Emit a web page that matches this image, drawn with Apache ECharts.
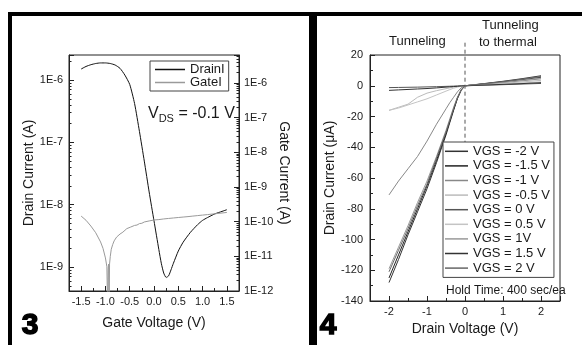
<!DOCTYPE html>
<html>
<head>
<meta charset="utf-8">
<script src="https://cdn.jsdelivr.net/npm/echarts@6/dist/echarts.min.js"></script>
<style>
  html, body { margin: 0; padding: 0; background: #fff; }
  #chart { width: 582px; height: 345px; }
</style>
</head>
<body>
<div id="chart"></div>
<script>
// panel 3: transfer curve (log currents)
const drainV = [-1.5, -1.4, -1.3, -1.2, -1.1, -1.0, -0.9, -0.8, -0.7, -0.6, -0.5, -0.4, -0.3, -0.2, -0.1, 0, 0.1, 0.15, 0.2, 0.25, 0.3, 0.35, 0.4, 0.5, 0.6, 0.75, 0.9, 1.0, 1.1, 1.25, 1.4, 1.5]
const drainI = [1.5e-6, 1.65e-6, 1.76e-6, 1.84e-6, 1.88e-6, 1.88e-6, 1.84e-6, 1.74e-6, 1.54e-6, 1.2e-6, 8.5e-7, 4.2e-7, 1.5e-7, 5e-8, 1.6e-8, 5.5e-9, 1.9e-9, 1.15e-9, 8e-10, 6.8e-10, 7.2e-10, 9e-10, 1.15e-9, 1.8e-9, 2.5e-9, 3.6e-9, 4.8e-9, 5.6e-9, 6.2e-9, 7.1e-9, 7.8e-9, 8.3e-9]

const gateV = [-1.5, -1.4, -1.3, -1.2, -1.1, -1.05, -1.0, -0.97, -0.955, -0.945, -0.935, -0.925, -0.915, -0.9, -0.88, -0.85, -0.82, -0.8, -0.77, -0.74, -0.7, -0.67, -0.64, -0.6, -0.56, -0.52, -0.48, -0.44, -0.4, -0.35, -0.3, -0.25, -0.2, -0.1, 0, 0.1, 0.2, 0.3, 0.4, 0.5, 0.6, 0.7, 0.8, 0.9, 1.0, 1.1, 1.2, 1.3, 1.4, 1.5]
const gateI = [1.45e-10, 1.1e-10, 7.5e-11, 4.8e-11, 2.6e-11, 1.7e-11, 9e-12, 5e-12, 3e-13, 4e-12, 6e-12, 2e-13, 6e-12, 1e-11, 1.6e-11, 2.2e-11, 2.8e-11, 2.6e-11, 3.6e-11, 3.3e-11, 4.4e-11, 4.1e-11, 5e-11, 5.5e-11, 6.3e-11, 6e-11, 7e-11, 7.2e-11, 7.8e-11, 8e-11, 8.8e-11, 9e-11, 9.8e-11, 1.05e-10, 1.12e-10, 1.15e-10, 1.2e-10, 1.24e-10, 1.28e-10, 1.32e-10, 1.36e-10, 1.4e-10, 1.45e-10, 1.5e-10, 1.55e-10, 1.6e-10, 1.66e-10, 1.72e-10, 1.78e-10, 1.85e-10]

// panel 4: output curves, drain current in uA
const vds = [-2, -1.75, -1.5, -1.25, -1, -0.75, -0.5, -0.4, -0.3, -0.2, -0.1, 0, 0.5, 1, 1.5, 2]
const vgsNames = ["VGS = -2 V", "VGS = -1.5 V", "VGS = -1 V", "VGS = -0.5 V", "VGS = 0 V", "VGS = 0.5 V", "VGS = 1V", "VGS = 1.5 V", "VGS = 2 V"]
const vgsColors = ["#333333", "#222222", "#888888", "#bbbbbb", "#555555", "#c4c4c4", "#999999", "#333333", "#666666"]
const idVgsM2 = [-128, -113, -97, -82, -67, -50, -32, -24, -16, -8.5, -3, 0, 1.4, 2.9, 4.6, 6.5]
const idVgsM15 = [-125, -110, -95, -80, -65, -48.5, -31, -23, -15.5, -8, -2.7, 0, 1.2, 2.5, 3.9, 5.5]
const idVgsM1 = [-71, -62, -54, -46, -36, -25, -15, -11, -7.5, -4, -1.3, 0, 1, 2.1, 3.2, 4.5]
const idVgsM05 = [-16, -14, -12, -7.5, -4.8, -3.2, -1.9, -1.4, -0.9, -0.5, -0.2, 0, 0.8, 1.6, 2.5, 3.5]
const idVgs0 = [-1.2, -1.1, -1, -0.9, -0.75, -0.6, -0.4, -0.32, -0.24, -0.16, -0.08, 0, 0.35, 0.7, 1.1, 1.5]
const idVgs05 = [-16, -14.5, -12.5, -10.5, -8.5, -6, -3.5, -2.5, -1.6, -0.9, -0.3, 0, 0.6, 1.2, 1.8, 2.5]
const idVgs1 = [-119, -105, -91, -76, -62, -46, -29, -21.5, -14, -7.5, -2.5, 0, 1.1, 2.3, 3.6, 5]
const idVgs15 = [-3, -2.7, -2.4, -2.1, -1.8, -1.4, -0.9, -0.7, -0.5, -0.35, -0.15, 0, 0.45, 0.9, 1.4, 2]
const idVgs2 = [-121, -107, -93, -78, -64, -47, -30, -22.5, -14.8, -7.8, -2.6, 0, 1.3, 2.7, 4.3, 6]
const idCurves = [idVgsM2, idVgsM15, idVgsM1, idVgsM05, idVgs0, idVgs05, idVgs1, idVgs15, idVgs2]

// dashed divider between the two regions
const dividerX = [0, 0]
const dividerY = [28, -37]

const FONT = "Liberation Sans"
const INK = "#1a1a1a"

const zip = (xs, ys) => xs.map((x, i) => [x, ys[i]])

const decadeLabel = (v) => {
  const e = Math.log10(v)
  return Math.abs(e - Math.round(e)) < 1e-6 ? "1E" + Math.round(e) : ""
}

const chart = echarts.init(document.getElementById("chart"), null, { renderer: "canvas" })

const tickBase = {
  axisLine: { show: true, onZero: false, lineStyle: { color: "#222", width: 1 } },
  axisTick: { show: true, inside: true, length: 5, lineStyle: { color: "#222" } },
  minorTick: { show: true, splitNumber: 2, length: 3, lineStyle: { color: "#222" } },
  splitLine: { show: false },
  axisLabel: { color: INK, fontFamily: FONT, fontSize: 11, showMinLabel: true, showMaxLabel: true },
  nameTextStyle: { color: INK, fontFamily: FONT, fontSize: 14 },
  nameLocation: "middle",
}

const option = {
  animation: false,
  backgroundColor: "#fff",
  textStyle: { fontFamily: FONT },
  grid: [
    { left: 69, top: 55, width: 170, height: 236, show: true, borderColor: "#222", borderWidth: 1 },
    { left: 370, top: 55, width: 190, height: 246, show: true, borderColor: "#222", borderWidth: 1 },
  ],
  xAxis: [
    {
      ...tickBase,
      gridIndex: 0,
      type: "value",
      min: -1.75,
      max: 1.75,
      splitNumber: 7,
      name: "Gate Voltage (V)",
      nameGap: 25,
      axisLabel: {
        ...tickBase.axisLabel,
        margin: 5,
        formatter: (v) => (Math.abs(v * 2 - Math.round(v * 2)) < 1e-6 ? v.toFixed(1) : ""),
      },
    },
    {
      ...tickBase,
      gridIndex: 1,
      type: "value",
      min: -2.5,
      max: 2.5,
      splitNumber: 5,
      name: "Drain Voltage (V)",
      nameGap: 21,
      axisLabel: {
        ...tickBase.axisLabel,
        margin: 5,
        formatter: (v) => (Math.abs(v - Math.round(v)) < 1e-6 ? String(Math.round(v)) : ""),
      },
    },
  ],
  yAxis: [
    {
      ...tickBase,
      gridIndex: 0,
      type: "log",
      position: "left",
      min: 4.12e-10,
      max: 2.52e-6,
      name: "Drain Current (A)",
      nameGap: 30,
      minorTick: { show: true, splitNumber: 9, length: 2.5, lineStyle: { color: "#222" } },
      axisLabel: { ...tickBase.axisLabel, margin: 6, formatter: decadeLabel },
    },
    {
      ...tickBase,
      gridIndex: 0,
      type: "log",
      position: "right",
      min: 1e-12,
      max: 6.45e-6,
      name: "Gate Current (A)",
      nameGap: 34,
      nameRotate: -90,
      minorTick: { show: true, splitNumber: 9, length: 2.5, lineStyle: { color: "#222" } },
      axisLabel: { ...tickBase.axisLabel, margin: 5, formatter: decadeLabel },
    },
    {
      ...tickBase,
      gridIndex: 1,
      type: "value",
      min: -140,
      max: 20,
      interval: 20,
      name: "Drain Current (\u03bcA)",
      nameGap: 19,
      axisLabel: { ...tickBase.axisLabel, margin: 7 },
    },
  ],
  legend: [
    {
      data: ["DrainI", "GateI"],
      orient: "vertical",
      left: 150,
      top: 61,
      icon: "rect",
      itemWidth: 30,
      itemHeight: 1.5,
      itemGap: 0,
      padding: [2, 4, 2, 5],
      borderColor: "#444",
      borderWidth: 1,
      backgroundColor: "#fff",
      selectedMode: false,
      textStyle: { color: INK, fontFamily: FONT, fontSize: 13, lineHeight: 11 },
    },
    {
      data: vgsNames,
      orient: "vertical",
      left: 443,
      top: 142,
      icon: "rect",
      itemWidth: 23,
      itemHeight: 1.5,
      itemGap: 0,
      padding: [2, 4, 2, 2],
      borderColor: "#444",
      borderWidth: 1,
      backgroundColor: "#fff",
      selectedMode: false,
      textStyle: { color: INK, fontFamily: FONT, fontSize: 13, lineHeight: 14.6 },
    },
  ],
  series: [
    {
      name: "DrainI",
      type: "line",
      xAxisIndex: 0,
      yAxisIndex: 0,
      data: zip(drainV, drainI),
      smooth: 0.2,
      showSymbol: false,
      symbol: "none",
      lineStyle: { color: "#111", width: 1 },
      itemStyle: { color: "#111" },
    },
    {
      name: "GateI",
      type: "line",
      xAxisIndex: 0,
      yAxisIndex: 1,
      data: zip(gateV, gateI),
      showSymbol: false,
      symbol: "none",
      lineStyle: { color: "#9a9a9a", width: 1 },
      itemStyle: { color: "#9a9a9a" },
    },
    ...vgsNames.map((name, i) => ({
      name,
      type: "line",
      xAxisIndex: 1,
      yAxisIndex: 2,
      data: zip(vds, idCurves[i]),
      showSymbol: false,
      symbol: "none",
      lineStyle: { color: vgsColors[i], width: 1 },
      itemStyle: { color: vgsColors[i] },
      z: 2,
    })),
    {
      name: "divider",
      type: "line",
      xAxisIndex: 1,
      yAxisIndex: 2,
      data: zip(dividerX, dividerY),
      clip: false,
      showSymbol: false,
      symbol: "none",
      lineStyle: { color: "#555", width: 1, type: [4, 3] },
      z: 1,
    },
  ],
  graphic: [
    // black frame pieces
    { type: "rect", shape: { x: 8, y: 12, width: 574, height: 4 }, style: { fill: "#000" } },
    { type: "rect", shape: { x: 8, y: 12, width: 4, height: 333 }, style: { fill: "#000" } },
    { type: "rect", shape: { x: 309, y: 12, width: 8, height: 333 }, style: { fill: "#000" } },
    // panel numbers
    { type: "text", left: 21, top: 310, style: { text: "3", font: "900 30px 'Liberation Sans'", fill: "#000", stroke: "#000", lineWidth: 1.5 } },
    { type: "text", left: 319, top: 310, style: { text: "4", font: "900 30px 'Liberation Sans'", fill: "#000", stroke: "#000", lineWidth: 1.5 } },
    // V_DS annotation
    {
      type: "text",
      left: 148,
      top: 104,
      style: {
        text: "{v|V}{s|DS}{v| = -0.1 V}",
        rich: {
          v: { fontSize: 16, fontFamily: FONT, fill: INK, lineHeight: 20 },
          s: { fontSize: 11, fontFamily: FONT, fill: INK, lineHeight: 20, padding: [9, 0, 0, 0] },
        },
      },
    },
    // region labels
    { type: "text", left: 389, top: 35, style: { text: "Tunneling", fontSize: 13, fontFamily: FONT, fill: INK } },
    { type: "text", left: 482, top: 19, style: { text: "Tunneling", fontSize: 13, fontFamily: FONT, fill: INK } },
    { type: "text", left: 479, top: 36, style: { text: "to thermal", fontSize: 13, fontFamily: FONT, fill: INK } },
    { type: "text", left: 446, top: 285, style: { text: "Hold Time: 400 sec/ea", fontSize: 12, fontFamily: FONT, fill: INK } },
  ],
}

chart.setOption(option)
</script>
</body>
</html>
